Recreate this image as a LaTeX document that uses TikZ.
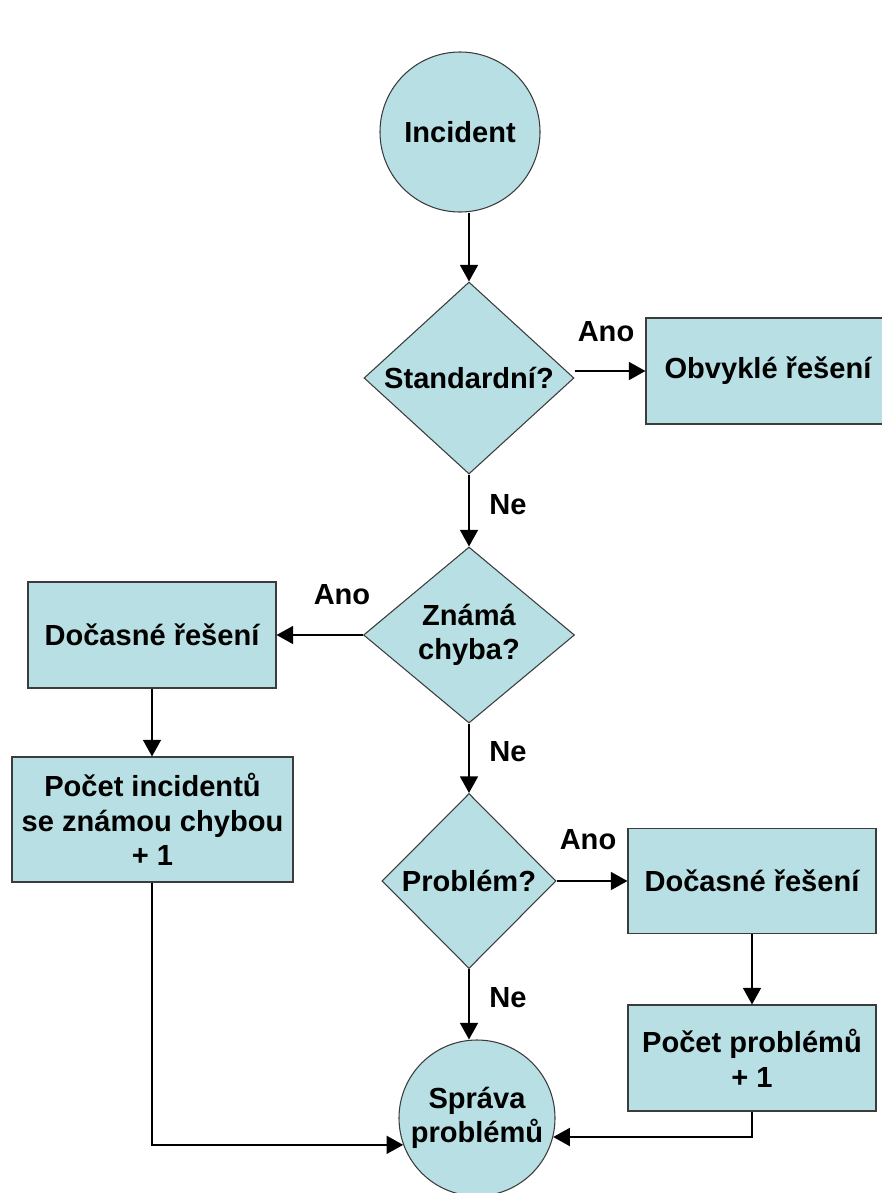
\documentclass[tikz,border=0pt]{standalone}
\usepackage{fontspec}
\setmainfont{Liberation Sans}
\usetikzlibrary{shapes.geometric,arrows.meta,calc}

\definecolor{boxfill}{RGB}{184,224,228}
\definecolor{boxline}{RGB}{60,60,60}

\tikzset{
  base/.style={fill=boxfill, draw=boxline, line width=0.8pt, inner sep=0pt,
    align=center, font=\fontsize{21.8}{26}\selectfont\bfseries},
  roundnode/.style={base, circle, minimum size=#1},
  decision/.style={base, diamond},
  procbox/.style={base, rectangle},
  arr/.style={draw=black, line width=1.4pt,
    -{Triangle[length=12.5pt,width=13.5pt]}},
  lbl/.style={font=\fontsize{21.8}{26}\selectfont\bfseries, inner sep=0pt}
}

\begin{document}
\begin{tikzpicture}[x=0.75pt, y=-0.75pt]
  \useasboundingbox (0,0) rectangle (882,1193);

  % main column
  \node[roundnode=160*0.75pt] (inc) at (460,132) {Incident};
  \node[decision, minimum width=210*0.75pt, minimum height=192*0.75pt]
    (std) at (469,378) {Standardní?};
  \node[procbox, minimum width=244*0.75pt, minimum height=106*0.75pt]
    (obv) at (768,371) {Obvyklé řešení};
  \node[decision, minimum width=211*0.75pt, minimum height=176*0.75pt]
    (zn) at (469,635) {Známá\\chyba?};
  \node[decision, minimum width=174*0.75pt, minimum height=175*0.75pt]
    (pr) at (469,881) {Problém?};
  \node[roundnode=156*0.75pt] (spr) at (477,1118) {Správa\\problémů};

  % left branch
  \node[procbox, minimum width=248*0.75pt, minimum height=106*0.75pt]
    (doca) at (152,635) {Dočasné řešení};
  \node[procbox, minimum width=281*0.75pt, minimum height=125*0.75pt]
    (pin) at (152.5,819.5) {Počet incidentů\\se známou chybou\\+ 1};

  % right branch
  \node[procbox, minimum width=248*0.75pt, minimum height=105*0.75pt]
    (docb) at (752,881) {Dočasné řešení};
  \node[procbox, minimum width=248*0.75pt, minimum height=106*0.75pt]
    (ppr) at (752,1058) {Počet problémů\\+ 1};

  % connectors
  \draw[arr] (inc.south -| std.north) -- (std.north);
  \draw[arr] (std.east |- obv.west) -- (obv.west);
  \draw[arr] (std.south) -- (zn.north);
  \draw[arr] (zn.west) -- (doca.east);
  \draw[arr] (zn.south) -- (pr.north);
  \draw[arr] (pr.east) -- (docb.west);
  \draw[arr] (pr.south) -- (pr.south |- spr.north);
  \draw[arr] (doca.south) -- (pin.north -| doca.south);
  \draw[arr] (docb.south) -- (ppr.north);
  \draw[arr] (ppr.south) |- (spr.-14);
  \draw[arr] (pin.south -| doca.south) |- (spr.200);

  % branch labels
  \node[lbl] (l1) at (606,332) {Ano};
  \node[lbl] (l2) at (508,505) {Ne};
  \node[lbl] (l3) at (342,595) {Ano};
  \node[lbl] (l4) at (508,752) {Ne};
  \node[lbl] (l5) at (588,840) {Ano};
  \node[lbl] (l6) at (508,998) {Ne};
\end{tikzpicture}
\end{document}
